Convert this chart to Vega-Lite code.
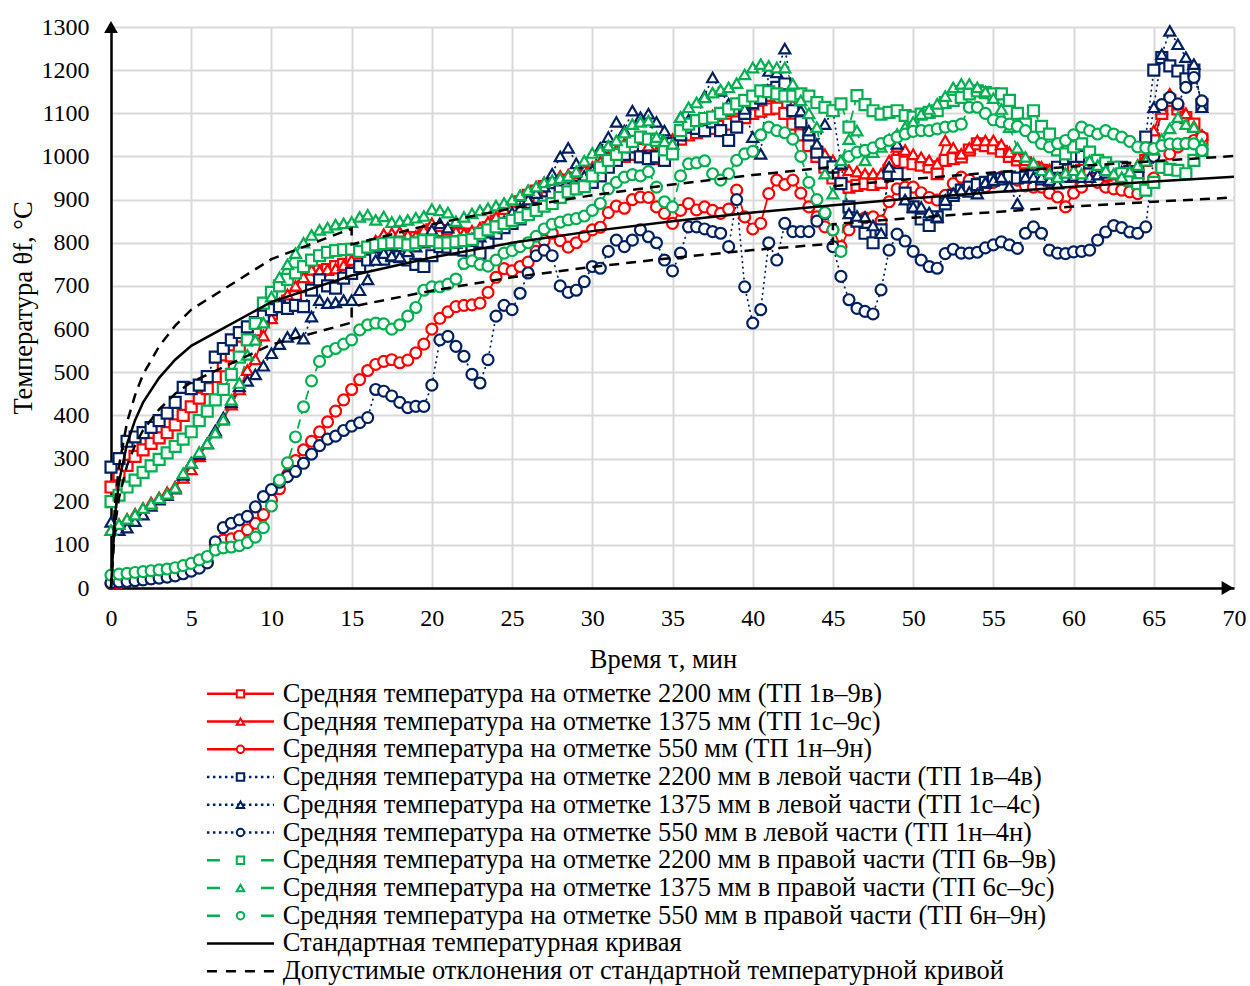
{
"$schema":"https://vega.github.io/schema/vega-lite/v6.json",
"background":"white",
"padding":{"left":10,"top":15,"right":0,"bottom":0},
"spacing":7,
"resolve":{"scale":{"color":"independent","strokeDash":"independent","shape":"independent"}},
"config":{"font":"Liberation Serif","view":{"stroke":null}},
"datasets":{
"series":[
{"t":0,"s1":234,"s2":134,"s3":10,"s4":280,"s5":153,"s6":12,"s7":200,"s8":134,"s9":30},
{"t":0.5,"s1":262,"s2":148,"s3":12,"s4":300,"s5":134,"s6":14,"s7":215,"s8":148,"s9":32},
{"t":1,"s1":284,"s2":160,"s3":15,"s4":340,"s5":140,"s6":15,"s7":234,"s8":160,"s9":34},
{"t":1.5,"s1":305,"s2":172,"s3":17,"s4":350,"s5":155,"s6":17,"s7":250,"s8":170,"s9":36},
{"t":2,"s1":320,"s2":185,"s3":20,"s4":360,"s5":170,"s6":19,"s7":268,"s8":185,"s9":38},
{"t":2.5,"s1":335,"s2":198,"s3":22,"s4":372,"s5":190,"s6":21,"s7":283,"s8":195,"s9":40},
{"t":3,"s1":348,"s2":210,"s3":26,"s4":388,"s5":205,"s6":23,"s7":298,"s8":208,"s9":42},
{"t":3.5,"s1":360,"s2":222,"s3":29,"s4":405,"s5":215,"s6":25,"s7":313,"s8":218,"s9":44},
{"t":4,"s1":378,"s2":235,"s3":33,"s4":430,"s5":230,"s6":28,"s7":328,"s8":232,"s9":47},
{"t":4.5,"s1":400,"s2":255,"s3":37,"s4":465,"s5":262,"s6":33,"s7":345,"s8":266,"s9":52},
{"t":5,"s1":420,"s2":275,"s3":42,"s4":462,"s5":290,"s6":39,"s7":362,"s8":290,"s9":57},
{"t":5.5,"s1":440,"s2":305,"s3":50,"s4":470,"s5":310,"s6":46,"s7":388,"s8":315,"s9":65},
{"t":6,"s1":462,"s2":335,"s3":60,"s4":490,"s5":335,"s6":58,"s7":410,"s8":335,"s9":73},
{"t":6.5,"s1":490,"s2":362,"s3":100,"s4":535,"s5":365,"s6":107,"s7":436,"s8":360,"s9":88},
{"t":7,"s1":515,"s2":390,"s3":111,"s4":555,"s5":395,"s6":140,"s7":460,"s8":390,"s9":93},
{"t":7.5,"s1":538,"s2":425,"s3":114,"s4":575,"s5":430,"s6":150,"s7":495,"s8":436,"s9":95},
{"t":8,"s1":558,"s2":460,"s3":120,"s4":592,"s5":467,"s6":158,"s7":535,"s8":475,"s9":98},
{"t":8.5,"s1":578,"s2":505,"s3":135,"s4":605,"s5":480,"s6":166,"s7":575,"s8":540,"s9":105},
{"t":9,"s1":598,"s2":530,"s3":150,"s4":615,"s5":495,"s6":188,"s7":613,"s8":575,"s9":118},
{"t":9.5,"s1":618,"s2":585,"s3":170,"s4":630,"s5":515,"s6":212,"s7":660,"s8":615,"s9":140},
{"t":10,"s1":635,"s2":625,"s3":204,"s4":645,"s5":544,"s6":228,"s7":685,"s8":675,"s9":190},
{"t":10.5,"s1":652,"s2":660,"s3":230,"s4":652,"s5":565,"s6":245,"s7":700,"s8":720,"s9":250},
{"t":11,"s1":665,"s2":680,"s3":262,"s4":648,"s5":582,"s6":258,"s7":715,"s8":750,"s9":290},
{"t":11.5,"s1":675,"s2":700,"s3":295,"s4":655,"s5":590,"s6":270,"s7":730,"s8":776,"s9":350},
{"t":12,"s1":698,"s2":720,"s3":320,"s4":652,"s5":578,"s6":289,"s7":745,"s8":800,"s9":420},
{"t":12.5,"s1":720,"s2":737,"s3":340,"s4":690,"s5":629,"s6":310,"s7":760,"s8":818,"s9":480},
{"t":13,"s1":735,"s2":735,"s3":362,"s4":714,"s5":667,"s6":330,"s7":770,"s8":830,"s9":525},
{"t":13.5,"s1":738,"s2":738,"s3":385,"s4":700,"s5":660,"s6":345,"s7":778,"s8":835,"s9":548},
{"t":14,"s1":745,"s2":740,"s3":410,"s4":695,"s5":662,"s6":352,"s7":782,"s8":842,"s9":555},
{"t":14.5,"s1":750,"s2":748,"s3":436,"s4":718,"s5":667,"s6":365,"s7":784,"s8":845,"s9":565},
{"t":15,"s1":760,"s2":760,"s3":460,"s4":729,"s5":667,"s6":375,"s7":785,"s8":848,"s9":575},
{"t":15.5,"s1":772,"s2":776,"s3":483,"s4":745,"s5":690,"s6":383,"s7":780,"s8":860,"s9":598},
{"t":16,"s1":782,"s2":785,"s3":504,"s4":760,"s5":715,"s6":395,"s7":790,"s8":865,"s9":610},
{"t":16.5,"s1":790,"s2":805,"s3":518,"s4":765,"s5":760,"s6":460,"s7":795,"s8":853,"s9":614},
{"t":17,"s1":800,"s2":820,"s3":525,"s4":762,"s5":776,"s6":456,"s7":798,"s8":861,"s9":612},
{"t":17.5,"s1":805,"s2":822,"s3":529,"s4":770,"s5":770,"s6":445,"s7":800,"s8":848,"s9":600},
{"t":18,"s1":805,"s2":825,"s3":522,"s4":768,"s5":768,"s6":430,"s7":800,"s8":850,"s9":610},
{"t":18.5,"s1":808,"s2":818,"s3":528,"s4":760,"s5":780,"s6":418,"s7":795,"s8":853,"s9":630},
{"t":19,"s1":812,"s2":815,"s3":545,"s4":750,"s5":791,"s6":421,"s7":800,"s8":858,"s9":650},
{"t":19.5,"s1":818,"s2":830,"s3":565,"s4":745,"s5":800,"s6":421,"s7":805,"s8":862,"s9":690},
{"t":20,"s1":830,"s2":845,"s3":600,"s4":770,"s5":830,"s6":470,"s7":805,"s8":878,"s9":698},
{"t":20.5,"s1":828,"s2":838,"s3":625,"s4":791,"s5":845,"s6":575,"s7":800,"s8":875,"s9":698},
{"t":21,"s1":825,"s2":830,"s3":640,"s4":790,"s5":835,"s6":583,"s7":800,"s8":870,"s9":704},
{"t":21.5,"s1":822,"s2":826,"s3":652,"s4":785,"s5":799,"s6":560,"s7":802,"s8":850,"s9":716},
{"t":22,"s1":820,"s2":822,"s3":655,"s4":783,"s5":805,"s6":537,"s7":805,"s8":860,"s9":752},
{"t":22.5,"s1":818,"s2":828,"s3":656,"s4":780,"s5":810,"s6":495,"s7":808,"s8":868,"s9":758},
{"t":23,"s1":822,"s2":835,"s3":660,"s4":776,"s5":814,"s6":475,"s7":822,"s8":875,"s9":750},
{"t":23.5,"s1":835,"s2":848,"s3":685,"s4":800,"s5":825,"s6":529,"s7":830,"s8":880,"s9":746},
{"t":24,"s1":850,"s2":860,"s3":720,"s4":822,"s5":837,"s6":630,"s7":837,"s8":886,"s9":760},
{"t":24.5,"s1":865,"s2":878,"s3":740,"s4":835,"s5":850,"s6":655,"s7":845,"s8":892,"s9":776},
{"t":25,"s1":880,"s2":895,"s3":735,"s4":845,"s5":870,"s6":645,"s7":852,"s8":900,"s9":782},
{"t":25.5,"s1":895,"s2":908,"s3":745,"s4":855,"s5":880,"s6":683,"s7":858,"s8":910,"s9":791},
{"t":26,"s1":910,"s2":920,"s3":755,"s4":868,"s5":900,"s6":730,"s7":865,"s8":922,"s9":800},
{"t":26.5,"s1":920,"s2":930,"s3":780,"s4":880,"s5":915,"s6":770,"s7":875,"s8":930,"s9":815},
{"t":27,"s1":930,"s2":940,"s3":805,"s4":895,"s5":930,"s6":783,"s7":885,"s8":940,"s9":832},
{"t":27.5,"s1":935,"s2":948,"s3":822,"s4":914,"s5":960,"s6":770,"s7":891,"s8":945,"s9":843},
{"t":28,"s1":940,"s2":955,"s3":805,"s4":920,"s5":1000,"s6":700,"s7":905,"s8":950,"s9":848},
{"t":28.5,"s1":945,"s2":958,"s3":790,"s4":925,"s5":1020,"s6":685,"s7":918,"s8":955,"s9":853},
{"t":29,"s1":950,"s2":960,"s3":800,"s4":930,"s5":984,"s6":690,"s7":925,"s8":965,"s9":856},
{"t":29.5,"s1":958,"s2":968,"s3":815,"s4":935,"s5":955,"s6":710,"s7":930,"s8":990,"s9":862},
{"t":30,"s1":965,"s2":975,"s3":830,"s4":940,"s5":968,"s6":745,"s7":955,"s8":1008,"s9":875},
{"t":30.5,"s1":975,"s2":988,"s3":836,"s4":955,"s5":1020,"s6":741,"s7":975,"s8":1014,"s9":891},
{"t":31,"s1":985,"s2":1000,"s3":870,"s4":975,"s5":1045,"s6":780,"s7":991,"s8":1025,"s9":925},
{"t":31.5,"s1":993,"s2":1015,"s3":885,"s4":991,"s5":1080,"s6":806,"s7":1005,"s8":1037,"s9":940},
{"t":32,"s1":1000,"s2":1030,"s3":880,"s4":1005,"s5":1060,"s6":791,"s7":1022,"s8":1055,"s9":952},
{"t":32.5,"s1":1005,"s2":1035,"s3":900,"s4":1022,"s5":1106,"s6":806,"s7":1035,"s8":1075,"s9":958},
{"t":33,"s1":1000,"s2":1040,"s3":906,"s4":999,"s5":1091,"s6":830,"s7":1045,"s8":1080,"s9":955},
{"t":33.5,"s1":998,"s2":1025,"s3":905,"s4":995,"s5":1099,"s6":814,"s7":1040,"s8":1083,"s9":965},
{"t":34,"s1":995,"s2":1010,"s3":883,"s4":999,"s5":1080,"s6":800,"s7":1037,"s8":1045,"s9":929},
{"t":34.5,"s1":1010,"s2":1025,"s3":868,"s4":991,"s5":1060,"s6":760,"s7":1015,"s8":1035,"s9":895},
{"t":35,"s1":1030,"s2":1040,"s3":845,"s4":1030,"s5":1029,"s6":735,"s7":1006,"s8":1029,"s9":883},
{"t":35.5,"s1":1040,"s2":1055,"s3":875,"s4":1050,"s5":1091,"s6":776,"s7":1060,"s8":1091,"s9":955},
{"t":36,"s1":1050,"s2":1070,"s3":891,"s4":1068,"s5":1085,"s6":837,"s7":1075,"s8":1114,"s9":983},
{"t":36.5,"s1":1055,"s2":1080,"s3":876,"s4":1065,"s5":1083,"s6":837,"s7":1083,"s8":1125,"s9":985},
{"t":37,"s1":1060,"s2":1090,"s3":883,"s4":1060,"s5":1140,"s6":832,"s7":1088,"s8":1137,"s9":990},
{"t":37.5,"s1":1065,"s2":1095,"s3":875,"s4":1080,"s5":1183,"s6":826,"s7":1091,"s8":1148,"s9":960},
{"t":38,"s1":1070,"s2":1100,"s3":868,"s4":1060,"s5":1152,"s6":822,"s7":1100,"s8":1155,"s9":945},
{"t":38.5,"s1":1075,"s2":1105,"s3":878,"s4":1037,"s5":1122,"s6":791,"s7":1110,"s8":1160,"s9":960},
{"t":39,"s1":1080,"s2":1110,"s3":922,"s4":1068,"s5":1122,"s6":900,"s7":1122,"s8":1170,"s9":991},
{"t":39.5,"s1":1090,"s2":1115,"s3":860,"s4":1100,"s5":1110,"s6":698,"s7":1130,"s8":1190,"s9":1006},
{"t":40,"s1":1100,"s2":1120,"s3":832,"s4":1125,"s5":1045,"s6":614,"s7":1140,"s8":1206,"s9":1012},
{"t":40.5,"s1":1105,"s2":1130,"s3":845,"s4":1135,"s5":1006,"s6":645,"s7":1152,"s8":1214,"s9":1050},
{"t":41,"s1":1110,"s2":1140,"s3":914,"s4":1152,"s5":1198,"s6":800,"s7":1150,"s8":1210,"s9":1068},
{"t":41.5,"s1":1112,"s2":1145,"s3":945,"s4":1160,"s5":1195,"s6":760,"s7":1145,"s8":1206,"s9":1060},
{"t":42,"s1":1100,"s2":1150,"s3":935,"s4":1168,"s5":1250,"s6":845,"s7":1140,"s8":1206,"s9":1055},
{"t":42.5,"s1":1075,"s2":1120,"s3":945,"s4":1106,"s5":1152,"s6":826,"s7":1140,"s8":1168,"s9":1040},
{"t":43,"s1":1050,"s2":1090,"s3":915,"s4":1080,"s5":1106,"s6":826,"s7":1145,"s8":1130,"s9":1000},
{"t":43.5,"s1":1025,"s2":1055,"s3":883,"s4":1050,"s5":1060,"s6":826,"s7":1140,"s8":1100,"s9":940},
{"t":44,"s1":1000,"s2":1020,"s3":860,"s4":1010,"s5":1029,"s6":850,"s7":1125,"s8":1068,"s9":900},
{"t":44.5,"s1":975,"s2":1005,"s3":837,"s4":985,"s5":1075,"s6":868,"s7":1114,"s8":960,"s9":870},
{"t":45,"s1":950,"s2":991,"s3":830,"s4":976,"s5":1106,"s6":791,"s7":1106,"s8":914,"s9":830},
{"t":45.5,"s1":938,"s2":980,"s3":791,"s4":937,"s5":983,"s6":722,"s7":1122,"s8":991,"s9":780},
{"t":46,"s1":929,"s2":968,"s3":830,"s4":883,"s5":868,"s6":668,"s7":1068,"s8":1040,"s9":1000},
{"t":46.5,"s1":933,"s2":965,"s3":852,"s4":850,"s5":862,"s6":648,"s7":1141,"s8":1060,"s9":1010},
{"t":47,"s1":937,"s2":960,"s3":858,"s4":822,"s5":860,"s6":641,"s7":1120,"s8":991,"s9":1014},
{"t":47.5,"s1":935,"s2":960,"s3":860,"s4":800,"s5":840,"s6":635,"s7":1106,"s8":1010,"s9":1020},
{"t":48,"s1":940,"s2":960,"s3":850,"s4":830,"s5":822,"s6":691,"s7":1098,"s8":1022,"s9":1030},
{"t":48.5,"s1":968,"s2":990,"s3":895,"s4":960,"s5":976,"s6":783,"s7":1102,"s8":1040,"s9":1037},
{"t":49,"s1":991,"s2":1022,"s3":925,"s4":960,"s5":1029,"s6":820,"s7":1106,"s8":1052,"s9":1045},
{"t":49.5,"s1":987,"s2":1015,"s3":929,"s4":915,"s5":900,"s6":804,"s7":1095,"s8":1068,"s9":1052},
{"t":50,"s1":983,"s2":1005,"s3":929,"s4":883,"s5":883,"s6":780,"s7":1091,"s8":1080,"s9":1058},
{"t":50.5,"s1":980,"s2":998,"s3":916,"s4":855,"s5":883,"s6":760,"s7":1098,"s8":1098,"s9":1060},
{"t":51,"s1":976,"s2":991,"s3":905,"s4":840,"s5":870,"s6":745,"s7":1102,"s8":1110,"s9":1060},
{"t":51.5,"s1":960,"s2":983,"s3":899,"s4":860,"s5":860,"s6":741,"s7":1106,"s8":1122,"s9":1064},
{"t":52,"s1":991,"s2":1037,"s3":910,"s4":890,"s5":899,"s6":775,"s7":1125,"s8":1140,"s9":1068},
{"t":52.5,"s1":995,"s2":1020,"s3":937,"s4":910,"s5":915,"s6":785,"s7":1130,"s8":1160,"s9":1070},
{"t":53,"s1":999,"s2":1006,"s3":952,"s4":922,"s5":922,"s6":776,"s7":1137,"s8":1168,"s9":1075},
{"t":53.5,"s1":1015,"s2":1020,"s3":945,"s4":929,"s5":918,"s6":776,"s7":1145,"s8":1168,"s9":1114},
{"t":54,"s1":1029,"s2":1037,"s3":937,"s4":935,"s5":914,"s6":778,"s7":1152,"s8":1160,"s9":1114},
{"t":54.5,"s1":1025,"s2":1037,"s3":930,"s4":940,"s5":940,"s6":788,"s7":1148,"s8":1150,"s9":1100},
{"t":55,"s1":1020,"s2":1037,"s3":940,"s4":945,"s5":945,"s6":795,"s7":1145,"s8":1135,"s9":1085},
{"t":55.5,"s1":1012,"s2":1028,"s3":952,"s4":948,"s5":952,"s6":802,"s7":1145,"s8":1110,"s9":1080},
{"t":56,"s1":1000,"s2":1010,"s3":948,"s4":952,"s5":930,"s6":795,"s7":1130,"s8":1068,"s9":1075},
{"t":56.5,"s1":992,"s2":1000,"s3":945,"s4":950,"s5":891,"s6":787,"s7":1100,"s8":1020,"s9":1070},
{"t":57,"s1":985,"s2":991,"s3":932,"s4":952,"s5":952,"s6":822,"s7":1075,"s8":999,"s9":1060},
{"t":57.5,"s1":975,"s2":983,"s3":929,"s4":955,"s5":952,"s6":837,"s7":1106,"s8":985,"s9":1045},
{"t":58,"s1":968,"s2":976,"s3":929,"s4":948,"s5":952,"s6":822,"s7":1070,"s8":968,"s9":1030},
{"t":58.5,"s1":962,"s2":970,"s3":915,"s4":945,"s5":945,"s6":783,"s7":1052,"s8":960,"s9":1022},
{"t":59,"s1":960,"s2":960,"s3":906,"s4":975,"s5":937,"s6":776,"s7":1015,"s8":952,"s9":1030},
{"t":59.5,"s1":968,"s2":955,"s3":883,"s4":995,"s5":952,"s6":775,"s7":1006,"s8":962,"s9":1037},
{"t":60,"s1":975,"s2":952,"s3":915,"s4":1000,"s5":955,"s6":779,"s7":1022,"s8":968,"s9":1050},
{"t":60.5,"s1":968,"s2":948,"s3":929,"s4":1000,"s5":952,"s6":780,"s7":1029,"s8":960,"s9":1068},
{"t":61,"s1":960,"s2":945,"s3":945,"s4":985,"s5":952,"s6":783,"s7":1010,"s8":991,"s9":1060},
{"t":61.5,"s1":955,"s2":950,"s3":940,"s4":975,"s5":958,"s6":806,"s7":991,"s8":980,"s9":1052},
{"t":62,"s1":950,"s2":955,"s3":929,"s4":968,"s5":962,"s6":825,"s7":985,"s8":968,"s9":1060},
{"t":62.5,"s1":948,"s2":958,"s3":925,"s4":972,"s5":968,"s6":840,"s7":975,"s8":960,"s9":1052},
{"t":63,"s1":950,"s2":960,"s3":922,"s4":975,"s5":965,"s6":835,"s7":960,"s8":952,"s9":1045},
{"t":63.5,"s1":955,"s2":970,"s3":918,"s4":965,"s5":960,"s6":825,"s7":945,"s8":965,"s9":1035},
{"t":64,"s1":960,"s2":980,"s3":914,"s4":960,"s5":975,"s6":822,"s7":937,"s8":980,"s9":1022},
{"t":64.5,"s1":991,"s2":1000,"s3":925,"s4":1045,"s5":991,"s6":837,"s7":922,"s8":990,"s9":1020},
{"t":65,"s1":1040,"s2":1060,"s3":950,"s4":1200,"s5":1114,"s6":1000,"s7":940,"s8":1015,"s9":1018},
{"t":65.5,"s1":1100,"s2":1110,"s3":975,"s4":1229,"s5":1237,"s6":1120,"s7":975,"s8":1040,"s9":1025},
{"t":66,"s1":1130,"s2":1145,"s3":1006,"s4":1210,"s5":1291,"s6":1137,"s7":970,"s8":1065,"s9":1029},
{"t":66.5,"s1":1110,"s2":1120,"s3":1022,"s4":1198,"s5":1260,"s6":1122,"s7":968,"s8":1091,"s9":1029},
{"t":67,"s1":1090,"s2":1100,"s3":1030,"s4":1180,"s5":1230,"s6":1160,"s7":960,"s8":1075,"s9":1030},
{"t":67.5,"s1":1075,"s2":1070,"s3":1037,"s4":1200,"s5":1214,"s6":1183,"s7":991,"s8":1068,"s9":1029},
{"t":68,"s1":1040,"s2":1050,"s3":1045,"s4":1120,"s5":1114,"s6":1129,"s7":1014,"s8":1029,"s9":1014}
],
"std":[
{"t":0,"v":0},{"t":0.25,"v":170},{"t":0.5,"v":246},{"t":1,"v":334},{"t":1.5,"v":389},{"t":2,"v":430},{"t":3,"v":487},{"t":4,"v":529},{"t":5,"v":561},{"t":10,"v":663},{"t":15,"v":724},{"t":20,"v":766},{"t":25,"v":800},{"t":30,"v":827},{"t":35,"v":850},{"t":40,"v":870},{"t":45,"v":887},{"t":50,"v":903},{"t":55,"v":917},{"t":60,"v":930},{"t":65,"v":942},{"t":70,"v":953}
],
"tol":[
{"side":"up","i":1,"t":0,"v":0},{"side":"up","i":2,"t":0.25,"v":196},{"side":"up","i":3,"t":0.5,"v":283},{"side":"up","i":4,"t":1,"v":384},{"side":"up","i":5,"t":1.5,"v":447},{"side":"up","i":6,"t":2,"v":495},{"side":"up","i":7,"t":3,"v":560},{"side":"up","i":8,"t":4,"v":608},{"side":"up","i":9,"t":5,"v":645},{"side":"up","i":10,"t":10,"v":762},{"side":"up","i":11,"t":15,"v":833},{"side":"up","i":12,"t":15,"v":796},{"side":"up","i":13,"t":20,"v":843},{"side":"up","i":14,"t":25,"v":880},{"side":"up","i":15,"t":30,"v":910},{"side":"up","i":16,"t":35,"v":935},{"side":"up","i":17,"t":40,"v":957},{"side":"up","i":18,"t":45,"v":976},{"side":"up","i":19,"t":45,"v":931},{"side":"up","i":20,"t":50,"v":948},{"side":"up","i":21,"t":55,"v":963},{"side":"up","i":22,"t":60,"v":977},{"side":"up","i":23,"t":65,"v":989},{"side":"up","i":24,"t":70,"v":1001},
{"side":"lo","i":1,"t":0,"v":0},{"side":"lo","i":2,"t":0.25,"v":145},{"side":"lo","i":3,"t":0.5,"v":209},{"side":"lo","i":4,"t":1,"v":284},{"side":"lo","i":5,"t":1.5,"v":331},{"side":"lo","i":6,"t":2,"v":366},{"side":"lo","i":7,"t":3,"v":414},{"side":"lo","i":8,"t":4,"v":450},{"side":"lo","i":9,"t":5,"v":477},{"side":"lo","i":10,"t":10,"v":564},{"side":"lo","i":11,"t":15,"v":615},{"side":"lo","i":12,"t":15,"v":652},{"side":"lo","i":13,"t":20,"v":689},{"side":"lo","i":14,"t":25,"v":720},{"side":"lo","i":15,"t":30,"v":744},{"side":"lo","i":16,"t":35,"v":765},{"side":"lo","i":17,"t":40,"v":783},{"side":"lo","i":18,"t":45,"v":798},{"side":"lo","i":19,"t":45,"v":843},{"side":"lo","i":20,"t":50,"v":858},{"side":"lo","i":21,"t":55,"v":871},{"side":"lo","i":22,"t":60,"v":884},{"side":"lo","i":23,"t":65,"v":895},{"side":"lo","i":24,"t":70,"v":905}
],
"legend":[
{"k":"s1","label":"Средняя температура на отметке 2200 мм (ТП 1в–9в)"},
{"k":"s2","label":"Средняя температура на отметке 1375 мм (ТП 1с–9с)"},
{"k":"s3","label":"Средняя температура на отметке 550 мм (ТП 1н–9н)"},
{"k":"s4","label":"Средняя температура на отметке 2200 мм в левой части (ТП 1в–4в)"},
{"k":"s5","label":"Средняя температура на отметке 1375 мм в левой части (ТП 1с–4с)"},
{"k":"s6","label":"Средняя температура на отметке 550 мм в левой части (ТП 1н–4н)"},
{"k":"s7","label":"Средняя температура на отметке 2200 мм в правой части (ТП 6в–9в)"},
{"k":"s8","label":"Средняя температура на отметке 1375 мм в правой части (ТП 6с–9с)"},
{"k":"s9","label":"Средняя температура на отметке 550 мм в правой части (ТП 6н–9н)"},
{"k":"std","label":"Стандартная температурная кривая"},
{"k":"tol","label":"Допустимые отклонения от стандартной температурной кривой"}
]
},
"vconcat":[
{
"width":1123,"height":561,
"encoding":{
"x":{"type":"quantitative","scale":{"domain":[0,70],"nice":false},
"axis":{"values":[0,5,10,15,20,25,30,35,40,45,50,55,60,65,70],"format":"d","grid":true,"gridColor":"#d9d9d9","gridWidth":2,"domainColor":"black","domainWidth":2.5,"ticks":false,"labelFontSize":24,"labelColor":"black","labelPadding":18,"labelFlush":false,"title":"Время τ, мин","titleFontSize":26.5,"titleFontWeight":"normal","titleColor":"black","titlePadding":16,"titleX":552}},
"y":{"type":"quantitative","scale":{"domain":[0,1300],"nice":false},
"axis":{"values":[0,100,200,300,400,500,600,700,800,900,1000,1100,1200,1300],"format":"d","grid":true,"gridColor":"#d9d9d9","gridWidth":2,"domainColor":"black","domainWidth":2.5,"ticks":false,"labelFontSize":24,"labelColor":"black","labelPadding":22,"title":"Температура  θf, °C","titleFontSize":26.5,"titleFontWeight":"normal","titleColor":"black","titlePadding":4}}
},
"layer":[
{"data":{"name":"series"},"transform":[{"fold":["s1","s2","s3","s4","s5","s6","s7","s8","s9"],"as":["k","v"]}],
"mark":{"type":"line","strokeWidth":1.8,"strokeCap":"round"},
"encoding":{
"x":{"field":"t"},"y":{"field":"v"},
"color":{"field":"k","type":"nominal","scale":{"domain":["s1","s2","s3","s4","s5","s6","s7","s8","s9"],"range":["#ff0000","#ff0000","#ff0000","#002060","#002060","#002060","#00b050","#00b050","#00b050"]},"legend":null},
"strokeDash":{"field":"k","type":"nominal","scale":{"domain":["s1","s2","s3","s4","s5","s6","s7","s8","s9"],"range":[[1,0],[1,0],[1,0],[0.5,5],[0.5,5],[0.5,5],[8,7],[8,7],[8,7]]},"legend":null}
}},
{"data":{"name":"series"},"transform":[{"fold":["s1","s2","s3","s4","s5","s6","s7","s8","s9"],"as":["k","v"]}],
"mark":{"type":"point","filled":false,"fill":"white","fillOpacity":1,"opacity":1,"strokeWidth":2.2,"size":120},
"encoding":{
"x":{"field":"t"},"y":{"field":"v"},
"color":{"field":"k","type":"nominal","legend":null},
"shape":{"field":"k","type":"nominal","scale":{"domain":["s1","s2","s3","s4","s5","s6","s7","s8","s9"],"range":["square","triangle-up","circle","square","triangle-up","circle","square","triangle-up","circle"]},"legend":null},
"order":{"field":"k","sort":"ascending"}
}},
{"data":{"name":"std"},"mark":{"type":"line","color":"black","strokeWidth":2.5},
"encoding":{"x":{"field":"t"},"y":{"field":"v"}}},
{"data":{"name":"tol"},"mark":{"type":"line","color":"black","strokeWidth":2.5,"strokeDash":[10,7]},
"encoding":{"x":{"field":"t"},"y":{"field":"v"},"detail":{"field":"side"},"order":{"field":"i"}}},
{"data":{"values":[{"a":1}]},"mark":{"type":"point","shape":"triangle-up","filled":true,"color":"black","size":190,"opacity":1},
"encoding":{"x":{"datum":0},"y":{"datum":1300}}},
{"data":{"values":[{"a":1}]},"mark":{"type":"point","shape":"triangle-right","filled":true,"color":"black","size":190,"opacity":1},
"encoding":{"x":{"datum":69.6},"y":{"datum":0}}}
]
},
{
"width":1123,"height":305,
"data":{"name":"legend"},
"encoding":{
"y":{"field":"label","type":"nominal","sort":null,"scale":{"type":"point","padding":0.5},"axis":null}
},
"layer":[
{"mark":{"type":"rule","strokeWidth":2.5},
"encoding":{
"x":{"datum":5.98,"type":"quantitative","scale":{"domain":[0,70],"nice":false},"axis":null},
"x2":{"datum":10.16},
"color":{"field":"k","type":"nominal","scale":{"domain":["s1","s2","s3","s4","s5","s6","s7","s8","s9","std","tol"],"range":["#ff0000","#ff0000","#ff0000","#002060","#002060","#002060","#00b050","#00b050","#00b050","black","black"]},"legend":null},
"strokeDash":{"field":"k","type":"nominal","scale":{"domain":["s1","s2","s3","s4","s5","s6","s7","s8","s9","std","tol"],"range":[[1,0],[1,0],[1,0],[2.5,3.5],[2.5,3.5],[2.5,3.5],[13,41],[13,41],[13,41],[1,0],[10,9]]},"legend":null}
}},
{"transform":[{"filter":"datum.k !== 'std' && datum.k !== 'tol'"}],
"mark":{"type":"point","filled":false,"fill":"white","fillOpacity":1,"opacity":1,"strokeWidth":2,"size":55},
"encoding":{
"x":{"datum":8.07,"type":"quantitative"},
"color":{"field":"k","type":"nominal","legend":null},
"shape":{"field":"k","type":"nominal","scale":{"domain":["s1","s2","s3","s4","s5","s6","s7","s8","s9"],"range":["square","triangle-up","circle","square","triangle-up","circle","square","triangle-up","circle"]},"legend":null}
}},
{"mark":{"type":"text","align":"left","baseline":"middle","fontSize":26.5,"color":"black"},
"encoding":{"x":{"datum":10.7,"type":"quantitative"},"text":{"field":"label"}}}
]
}
]
}
